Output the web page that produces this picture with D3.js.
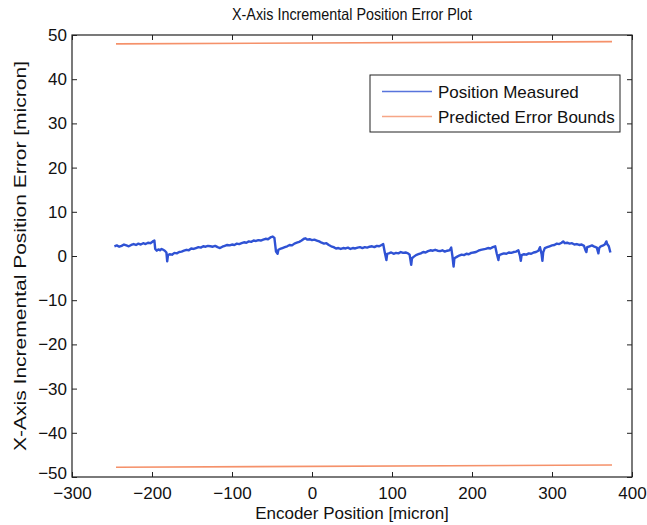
<!DOCTYPE html>
<html>
<head>
<meta charset="utf-8">
<script src="https://cdn.jsdelivr.net/npm/d3@7"></script>
<style>
  html, body { margin: 0; padding: 0; background: #fff; }
  svg { display: block; font-family: "Liberation Sans", Arial, Helvetica, sans-serif; }
</style>
</head>
<body>
<svg id="chart" width="647" height="525"></svg>
<script>
// Measured incremental position error along the X axis
const positionX = [
  -247, -244, -241, -238, -235, -232, -229, -226, -223, -220, -217, -214, -211, -208, -205, -202, -199, -197,
  -196, -194, -192, -190, -188, -186, -184, -182, -181, -180, -178, -175, -172, -169, -166, -163, -160, -157,
  -154, -151, -148, -145, -142, -139, -136, -133, -130, -127, -124, -121, -118, -115, -112, -109, -106, -103,
  -100, -97, -94, -91, -88, -85, -82, -79, -76, -73, -70, -67, -64, -61, -58, -55, -52, -49, -47,
  -45, -43, -42, -40, -37, -34, -31, -28, -25, -22, -19, -16, -13, -10, -8, -6, -3, 0, 3, 6, 9, 12, 15, 18,
  21, 24, 27, 30, 33, 36, 39, 42, 45, 48, 51, 54, 57, 60, 63, 66, 69, 72, 75, 78, 81, 84, 87, 89,
  91, 93, 94, 96, 99, 102, 105, 108, 111, 114, 117, 120, 122, 124, 125, 127, 130, 133, 136, 139, 142, 145,
  148, 151, 154, 157, 160, 163, 166, 169, 172, 174, 175.5, 177, 178, 181, 184, 187, 190, 193, 196, 199, 202,
  205, 208, 211, 214, 217, 220, 223, 226, 229, 231, 233, 234, 237, 240, 243, 246, 249, 252, 255, 258, 260,
  261, 262, 265, 268, 271, 274, 277, 280, 283, 285, 287, 288, 289, 291, 294, 297, 300, 303, 306, 309, 312,
  314, 316, 319, 322, 325, 328, 331, 334, 337, 340, 342, 343, 344, 347, 350, 353, 356, 358, 359, 361, 364,
  366, 368, 369, 371, 373
];
const positionError = [
  2.2, 2.4, 2.1, 2.3, 2.6, 2.4, 2.2, 2.5, 2.7, 2.5, 2.8, 2.6, 2.9, 2.7, 3.0, 2.9, 3.3, 3.5,
  1.6, 1.2, 1.5, 1.3, 1.6, 1.4, 1.2, 0.8, -1.2, 0.2, 0.4, 0.3, 0.7, 0.6, 0.9, 1.0, 1.2, 1.4,
  1.3, 1.7, 1.6, 1.8, 2.0, 1.9, 2.2, 2.1, 2.3, 2.2, 2.1, 2.3, 2.0, 1.8, 2.1, 2.3, 2.5, 2.4,
  2.6, 2.5, 2.8, 2.7, 2.9, 3.1, 3.0, 3.3, 3.2, 3.5, 3.4, 3.6, 3.5, 3.7, 3.9, 3.8, 4.2, 4.4, 4.1,
  1.0, 0.5, 1.4, 1.6, 1.8, 2.0, 2.2, 2.5, 2.4, 2.8, 3.0, 3.2, 3.5, 3.9, 4.0, 3.7, 3.8, 3.6, 3.7, 3.5, 3.3, 3.0, 2.8, 2.9,
  2.5, 2.2, 2.0, 1.7, 1.8, 1.6, 1.8, 1.7, 1.9, 1.6, 1.8, 1.7, 1.9, 2.0, 1.8, 2.0, 1.9, 2.1, 2.2, 2.0, 2.3, 2.2, 2.5, 2.7,
  0.8, -0.9, 0.5, 0.6, 0.8, 0.5, 0.7, 0.6, 0.9, 0.7, 0.8, 0.6, 0.3, -2.0, -0.5, -0.2, 0.2, 0.4, 0.6, 0.9, 0.8, 1.1,
  1.3, 1.2, 1.4, 1.2, 1.1, 1.3, 1.0, 1.2, 1.3, 1.9, 0.0, -2.4, -0.5, -0.2, 0.1, 0.3, 0.2, 0.5, 0.4, 0.7, 0.8,
  0.9, 1.2, 1.4, 1.5, 1.6, 1.8, 1.7, 2.0, 2.2, 0.5, -0.9, 0.2, 0.4, 0.6, 0.5, 0.8, 0.7, 0.9, 1.0, 1.3, 0.0,
  -1.1, 0.2, 0.4, 0.3, 0.6, 0.5, 0.8, 0.9, 1.2, 2.0, 0.4, -1.1, 0.8, 1.8, 2.0, 2.2, 2.4, 2.5, 2.8, 2.7, 3.0,
  3.3, 2.9, 3.0, 2.8, 2.9, 2.6, 2.7, 2.5, 2.6, 2.3, 1.2, 0.9, 2.0, 2.2, 2.4, 2.1, 1.9, 0.6, 1.8, 2.2, 2.4,
  2.6, 3.3, 2.7, 2.2, 0.8
];

// Predicted error bounds (upper and lower), end points of each straight line
const boundX = [-245, 375];
const upperBound = [48.0, 48.5];
const lowerBound = [-47.8, -47.3];

const xTicks = [-300, -200, -100, 0, 100, 200, 300, 400];
const yTicks = [-50, -40, -30, -20, -10, 0, 10, 20, 30, 40, 50];

const seriesNames = ["Position Measured", "Predicted Error Bounds"];
const seriesColors = ["#2f52d4", "#f5916a"];

const svg = d3.select("#chart");
const margin = { left: 72, right: 15, top: 35, bottom: 48 };
const W = 647, H = 525;
const x = d3.scaleLinear().domain([-300, 400]).range([margin.left, W - margin.right]);
const y = d3.scaleLinear().domain([-50, 50]).range([H - margin.bottom, margin.top]);

const axisColor = "#222";
const fontSize = 17;
const fmt = d => d < 0 ? "\u2212" + Math.abs(d) : d;

// Plot box
svg.append("rect")
  .attr("x", x(-300)).attr("y", y(50))
  .attr("width", x(400) - x(-300)).attr("height", y(-50) - y(50))
  .attr("fill", "#fff").attr("stroke", axisColor).attr("stroke-width", 1.2);

// Axes with inward ticks on all four sides
const tickLen = 5;
const gx = svg.append("g").attr("transform", `translate(0,${y(-50)})`)
  .call(d3.axisBottom(x).tickValues(xTicks).tickSizeInner(-tickLen).tickSizeOuter(0).tickPadding(10).tickFormat(fmt));
const gxTop = svg.append("g").attr("transform", `translate(0,${y(50)})`)
  .call(d3.axisTop(x).tickValues(xTicks).tickSizeInner(-tickLen).tickSizeOuter(0).tickFormat(""));
const gy = svg.append("g").attr("transform", `translate(${x(-300)},0)`)
  .call(d3.axisLeft(y).tickValues(yTicks).tickSizeInner(-tickLen).tickSizeOuter(0).tickPadding(5).tickFormat(fmt));
const gyRight = svg.append("g").attr("transform", `translate(${x(400)},0)`)
  .call(d3.axisRight(y).tickValues(yTicks).tickSizeInner(-tickLen).tickSizeOuter(0).tickFormat(""));

[gx, gxTop, gy, gyRight].forEach(g => {
  g.select(".domain").remove();
  g.selectAll(".tick line").attr("stroke", axisColor).attr("stroke-width", 1);
  g.selectAll(".tick text").attr("fill", "#111").style("font-size", fontSize + "px").style("font-family", "'Liberation Sans', Arial, sans-serif");
});
// keep the lowest y label clear of the corner x label
gy.selectAll(".tick").filter(d => d === -50).select("text").attr("dy", "0.1em");

// Bound lines
const boundLine = d3.line().x(d => x(d[0])).y(d => y(d[1]));
[upperBound, lowerBound].forEach(b => {
  svg.append("path")
    .datum(boundX.map((v, i) => [v, b[i]]))
    .attr("d", boundLine)
    .attr("fill", "none").attr("stroke", seriesColors[1]).attr("stroke-width", 1.6);
});

// Measured error trace
const traceLine = d3.line().x(d => x(d[0])).y(d => y(d[1]));
svg.append("path")
  .datum(positionX.map((v, i) => [v, positionError[i]]))
  .attr("d", traceLine)
  .attr("fill", "none").attr("stroke", seriesColors[0]).attr("stroke-width", 2.4)
  .attr("stroke-linejoin", "round");

// Legend
const lg = svg.append("g").attr("transform", "translate(370,75)");
lg.append("rect").attr("width", 250).attr("height", 57)
  .attr("fill", "#fff").attr("stroke", axisColor).attr("stroke-width", 1);
seriesNames.forEach((name, i) => {
  const cy = 16.5 + i * 25;
  lg.append("line").attr("x1", 12).attr("x2", 62).attr("y1", cy).attr("y2", cy)
    .attr("stroke", seriesColors[i]).attr("stroke-width", 1.3).attr("opacity", 0.8);
  lg.append("text").attr("x", 68).attr("y", cy + 6).text(name)
    .attr("fill", "#111").style("font-size", fontSize + "px");
});

// Title and axis labels
svg.append("text").attr("x", (x(-300) + x(400)) / 2).attr("y", 20).attr("text-anchor", "middle")
  .attr("fill", "#111").style("font-size", "16.5px")
  .attr("textLength", 240).attr("lengthAdjust", "spacingAndGlyphs")
  .text("X-Axis Incremental Position Error Plot");
svg.append("text").attr("x", (x(-300) + x(400)) / 2).attr("y", 519).attr("text-anchor", "middle")
  .attr("fill", "#111").style("font-size", fontSize + "px").text("Encoder Position [micron]");
svg.append("text").attr("transform", `translate(26,${(y(-50) + y(50)) / 2}) rotate(-90)`).attr("text-anchor", "middle")
  .attr("fill", "#111").style("font-size", "17px")
  .attr("textLength", 390).attr("lengthAdjust", "spacingAndGlyphs")
  .text("X-Axis Incremental Position Error [micron]");
</script>
</body>
</html>
